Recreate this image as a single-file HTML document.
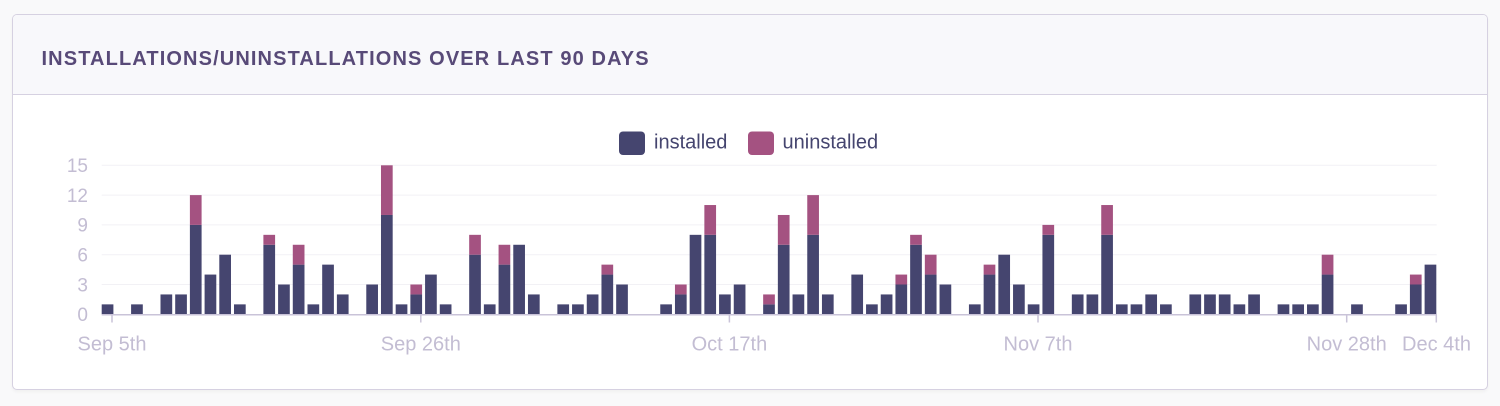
<!DOCTYPE html>
<html>
<head>
<meta charset="utf-8">
<style>
  html,body{margin:0;padding:0;}
  body{width:1500px;height:406px;background:#f9f9fa;position:relative;overflow:hidden;font-family:"Liberation Sans",Arial,sans-serif;}
  .card{position:absolute;left:12px;top:14px;width:1474px;height:374px;border:1.5px solid #d6d1e1;border-radius:5px;background:#fff;box-shadow:0 2px 3px rgba(0,0,0,0.04);overflow:hidden;}
  .head{position:absolute;left:0;top:0;right:0;height:79px;background:#f8f8fb;border-bottom:1.5px solid #d6d1e1;}
  .title{position:absolute;left:28.5px;top:34px;font-size:20px;font-weight:bold;letter-spacing:1.12px;color:#584a78;line-height:20px;white-space:nowrap;}
  svg{position:absolute;left:0;top:0;}
</style>
</head>
<body>
<div class="card">
  <div class="head"><div class="title">INSTALLATIONS/UNINSTALLATIONS OVER LAST 90 DAYS</div></div>
</div>
<svg width="1500" height="406" viewBox="0 0 1500 406" xmlns="http://www.w3.org/2000/svg">
  <rect x="619" y="131.5" width="26" height="23.5" rx="4" fill="#45456f"/>
  <text x="654" y="148.5" font-family="Liberation Sans, Arial, sans-serif" font-size="20" fill="#45456f">installed</text>
  <rect x="748" y="131.5" width="26" height="23.5" rx="4" fill="#a45281"/>
  <text x="782.5" y="148.5" font-family="Liberation Sans, Arial, sans-serif" font-size="20" fill="#45456f">uninstalled</text>

  <g stroke="#f2f1f5" stroke-width="1">
    <line x1="101.7" y1="165.3" x2="1436.7" y2="165.3"/>
    <line x1="101.7" y1="195.1" x2="1436.7" y2="195.1"/>
    <line x1="101.7" y1="224.9" x2="1436.7" y2="224.9"/>
    <line x1="101.7" y1="254.7" x2="1436.7" y2="254.7"/>
    <line x1="101.7" y1="284.5" x2="1436.7" y2="284.5"/>
  </g>

  <g font-family="Liberation Sans, Arial, sans-serif" font-size="19" fill="#c3bdd3" text-anchor="end">
    <text x="88" y="172">15</text>
    <text x="88" y="202">12</text>
    <text x="88" y="231.7">9</text>
    <text x="88" y="261.5">6</text>
    <text x="88" y="291.3">3</text>
    <text x="88" y="321">0</text>
  </g>

  <g transform="translate(101.7,314.3) scale(14.699,-9.933)">
    <g fill="#45456f">
      <rect x="0" y="0" width="0.796" height="1"/>
      <rect x="2" y="0" width="0.796" height="1"/>
      <rect x="4" y="0" width="0.796" height="2"/>
      <rect x="5" y="0" width="0.796" height="2"/>
      <rect x="6" y="0" width="0.796" height="9"/>
      <rect x="7" y="0" width="0.796" height="4"/>
      <rect x="8" y="0" width="0.796" height="6"/>
      <rect x="9" y="0" width="0.796" height="1"/>
      <rect x="11" y="0" width="0.796" height="7"/>
      <rect x="12" y="0" width="0.796" height="3"/>
      <rect x="13" y="0" width="0.796" height="5"/>
      <rect x="14" y="0" width="0.796" height="1"/>
      <rect x="15" y="0" width="0.796" height="5"/>
      <rect x="16" y="0" width="0.796" height="2"/>
      <rect x="18" y="0" width="0.796" height="3"/>
      <rect x="19" y="0" width="0.796" height="10"/>
      <rect x="20" y="0" width="0.796" height="1"/>
      <rect x="21" y="0" width="0.796" height="2"/>
      <rect x="22" y="0" width="0.796" height="4"/>
      <rect x="23" y="0" width="0.796" height="1"/>
      <rect x="25" y="0" width="0.796" height="6"/>
      <rect x="26" y="0" width="0.796" height="1"/>
      <rect x="27" y="0" width="0.796" height="5"/>
      <rect x="28" y="0" width="0.796" height="7"/>
      <rect x="29" y="0" width="0.796" height="2"/>
      <rect x="31" y="0" width="0.796" height="1"/>
      <rect x="32" y="0" width="0.796" height="1"/>
      <rect x="33" y="0" width="0.796" height="2"/>
      <rect x="34" y="0" width="0.796" height="4"/>
      <rect x="35" y="0" width="0.796" height="3"/>
      <rect x="38" y="0" width="0.796" height="1"/>
      <rect x="39" y="0" width="0.796" height="2"/>
      <rect x="40" y="0" width="0.796" height="8"/>
      <rect x="41" y="0" width="0.796" height="8"/>
      <rect x="42" y="0" width="0.796" height="2"/>
      <rect x="43" y="0" width="0.796" height="3"/>
      <rect x="45" y="0" width="0.796" height="1"/>
      <rect x="46" y="0" width="0.796" height="7"/>
      <rect x="47" y="0" width="0.796" height="2"/>
      <rect x="48" y="0" width="0.796" height="8"/>
      <rect x="49" y="0" width="0.796" height="2"/>
      <rect x="51" y="0" width="0.796" height="4"/>
      <rect x="52" y="0" width="0.796" height="1"/>
      <rect x="53" y="0" width="0.796" height="2"/>
      <rect x="54" y="0" width="0.796" height="3"/>
      <rect x="55" y="0" width="0.796" height="7"/>
      <rect x="56" y="0" width="0.796" height="4"/>
      <rect x="57" y="0" width="0.796" height="3"/>
      <rect x="59" y="0" width="0.796" height="1"/>
      <rect x="60" y="0" width="0.796" height="4"/>
      <rect x="61" y="0" width="0.796" height="6"/>
      <rect x="62" y="0" width="0.796" height="3"/>
      <rect x="63" y="0" width="0.796" height="1"/>
      <rect x="64" y="0" width="0.796" height="8"/>
      <rect x="66" y="0" width="0.796" height="2"/>
      <rect x="67" y="0" width="0.796" height="2"/>
      <rect x="68" y="0" width="0.796" height="8"/>
      <rect x="69" y="0" width="0.796" height="1"/>
      <rect x="70" y="0" width="0.796" height="1"/>
      <rect x="71" y="0" width="0.796" height="2"/>
      <rect x="72" y="0" width="0.796" height="1"/>
      <rect x="74" y="0" width="0.796" height="2"/>
      <rect x="75" y="0" width="0.796" height="2"/>
      <rect x="76" y="0" width="0.796" height="2"/>
      <rect x="77" y="0" width="0.796" height="1"/>
      <rect x="78" y="0" width="0.796" height="2"/>
      <rect x="80" y="0" width="0.796" height="1"/>
      <rect x="81" y="0" width="0.796" height="1"/>
      <rect x="82" y="0" width="0.796" height="1"/>
      <rect x="83" y="0" width="0.796" height="4"/>
      <rect x="85" y="0" width="0.796" height="1"/>
      <rect x="88" y="0" width="0.796" height="1"/>
      <rect x="89" y="0" width="0.796" height="3"/>
      <rect x="90" y="0" width="0.796" height="5"/>
    </g>
    <g fill="#a45281">
      <rect x="6" y="9" width="0.796" height="3"/>
      <rect x="11" y="7" width="0.796" height="1"/>
      <rect x="13" y="5" width="0.796" height="2"/>
      <rect x="19" y="10" width="0.796" height="5"/>
      <rect x="21" y="2" width="0.796" height="1"/>
      <rect x="25" y="6" width="0.796" height="2"/>
      <rect x="27" y="5" width="0.796" height="2"/>
      <rect x="34" y="4" width="0.796" height="1"/>
      <rect x="39" y="2" width="0.796" height="1"/>
      <rect x="41" y="8" width="0.796" height="3"/>
      <rect x="45" y="1" width="0.796" height="1"/>
      <rect x="46" y="7" width="0.796" height="3"/>
      <rect x="48" y="8" width="0.796" height="4"/>
      <rect x="54" y="3" width="0.796" height="1"/>
      <rect x="55" y="7" width="0.796" height="1"/>
      <rect x="56" y="4" width="0.796" height="2"/>
      <rect x="60" y="4" width="0.796" height="1"/>
      <rect x="64" y="8" width="0.796" height="1"/>
      <rect x="68" y="8" width="0.796" height="3"/>
      <rect x="83" y="4" width="0.796" height="2"/>
      <rect x="89" y="3" width="0.796" height="1"/>
    </g>
  </g>

  <line x1="101.7" y1="314.8" x2="1437" y2="314.8" stroke="#c9c3d8" stroke-width="1.5"/>
  <g stroke="#c9c3d8" stroke-width="1.5">
    <line x1="112" y1="314.8" x2="112" y2="322.5"/>
    <line x1="420.8" y1="314.8" x2="420.8" y2="322.5"/>
    <line x1="729.4" y1="314.8" x2="729.4" y2="322.5"/>
    <line x1="1038" y1="314.8" x2="1038" y2="322.5"/>
    <line x1="1346.7" y1="314.8" x2="1346.7" y2="322.5"/>
    <line x1="1436.3" y1="314.8" x2="1436.3" y2="322.5"/>
  </g>
  <g font-family="Liberation Sans, Arial, sans-serif" font-size="20" fill="#c3bdd3" text-anchor="middle">
    <text x="112" y="350.5">Sep 5th</text>
    <text x="420.8" y="350.5">Sep 26th</text>
    <text x="729.4" y="350.5">Oct 17th</text>
    <text x="1038" y="350.5">Nov 7th</text>
    <text x="1346.7" y="350.5">Nov 28th</text>
    <text x="1436.5" y="350.5">Dec 4th</text>
  </g>
</svg>
</body>
</html>
